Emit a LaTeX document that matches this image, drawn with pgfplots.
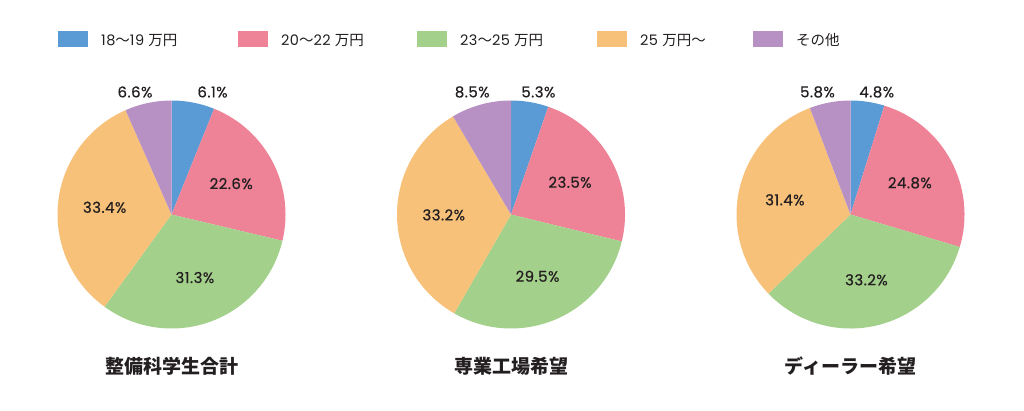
\documentclass[border=0pt]{standalone}
\usepackage{fontspec}
\setmainfont{Poppins}
\newfontfamily\wide{Poppins}[LetterSpace=3]
\newfontfamily\widebf{Poppins}[LetterSpace=3, FakeBold=0.5]
\newfontfamily\cjk{Noto Sans CJK JP}
\usepackage{pgfplots}
\usepackage{pgfplotstable}
\pgfplotsset{compat=1.18}

\definecolor{cA}{HTML}{5A9BD6}
\definecolor{cB}{HTML}{EE8296}
\definecolor{cC}{HTML}{A3D08B}
\definecolor{cD}{HTML}{F8C17A}
\definecolor{cE}{HTML}{B891C4}
\definecolor{txt}{HTML}{231F20}

% value: share in %, lx/ly: position of an outside label (radius = 1)
\pgfplotstableread{
value color lx ly
6.1  cA  0.36 1.075
22.6 cB  0 0
31.3 cC  0 0
33.4 cD  0 0
6.6  cE  -0.32 1.075
}\pieA
\pgfplotstableread{
value color lx ly
5.3  cA  0.24 1.075
23.5 cB  0 0
29.5 cC  0 0
33.2 cD  0 0
8.5  cE  -0.34 1.075
}\pieB
\pgfplotstableread{
value color lx ly
4.8  cA  0.23 1.075
24.8 cB  0 0
33.2 cC  0 0
31.4 cD  0 0
5.8  cE  -0.29 1.075
}\pieC

\def\R{114bp}
\newcommand\drawpie[1]{%
  \def\cum{0}%
  \pgfplotsforeachungrouped \i in {0,...,4}{%
    \pgfplotstablegetelem{\i}{value}\of{#1}\let\v\pgfplotsretval
    \pgfplotstablegetelem{\i}{color}\of{#1}\let\c\pgfplotsretval
    \pgfplotstablegetelem{\i}{lx}\of{#1}\let\lx\pgfplotsretval
    \pgfplotstablegetelem{\i}{ly}\of{#1}\let\ly\pgfplotsretval
    \pgfmathsetmacro\aS{90-3.6*\cum}%
    \pgfmathsetmacro\aE{90-3.6*(\cum+\v)}%
    \pgfmathsetmacro\aM{(\aS+\aE)/2}%
    \edef\cmd{\noexpand\fill[\c] (axis cs:0,0) -- (axis cs:{cos(\aS)},{sin(\aS)})
      arc[start angle=\aS, end angle=\aE, radius=\R] -- cycle;}%
    \cmd
    \pgfmathparse{\v<10 ? 1 : 0}%
    \ifdim\pgfmathresult pt>0.5pt
      \edef\cmd{\noexpand\node[pct] at (axis cs:\lx,\ly) {\v\noexpand\%};}%
    \else
      \edef\cmd{\noexpand\node[pct] at (axis cs:{0.59*cos(\aM)},{0.59*sin(\aM)}) {\v\noexpand\%};}%
    \fi
    \cmd
    \pgfmathsetmacro\cum{\cum+\v}%
  }%
}

\pgfplotsset{
  pie/.style={
    hide axis, clip=false,
    x=114bp, y=114bp,
    xmin=-1, xmax=1, ymin=-1, ymax=1,
    anchor=center,
  },
}
\tikzset{
  pct/.style={inner sep=0pt, text=txt, font=\fontsize{15bp}{18bp}\selectfont\widebf},
  ttl/.style={inner sep=0pt, text=txt, font=\fontsize{19bp}{22bp}\selectfont\cjk\bfseries},
  leg/.style={inner sep=0pt, anchor=base west, text=txt, font=\fontsize{14.5bp}{17bp}\selectfont\wide},
}

\begin{document}
\begin{tikzpicture}
\path[use as bounding box] (0,0) rectangle (1024bp,411bp);

% legend
\foreach \x/\c/\t in {58/cA/18{\cjk 〜}19 {\cjk 万円}, 238/cB/20{\cjk 〜}22 {\cjk 万円},
    417/cC/23{\cjk 〜}25 {\cjk 万円}, 597/cD/25 {\cjk 万円〜}, 753/cE/{\cjk その他}}{
  \fill[\c] (\x bp,364bp) rectangle ++(30bp,16bp);
  \node[leg] at (\x bp+43bp,365.5bp) {\t};
}

\begin{axis}[pie, at={(171.5bp,196.5bp)}]
  \drawpie{\pieA}
  \node[ttl] at (axis cs:0,-1.33) {整備科学生合計};
\end{axis}

\begin{axis}[pie, at={(511bp,196.5bp)}]
  \drawpie{\pieB}
  \node[ttl] at (axis cs:0,-1.33) {専業工場希望};
\end{axis}

\begin{axis}[pie, at={(850.5bp,196.5bp)}]
  \drawpie{\pieC}
  \node[ttl] at (axis cs:0,-1.33) {ディーラー希望};
\end{axis}
\end{tikzpicture}
\end{document}
